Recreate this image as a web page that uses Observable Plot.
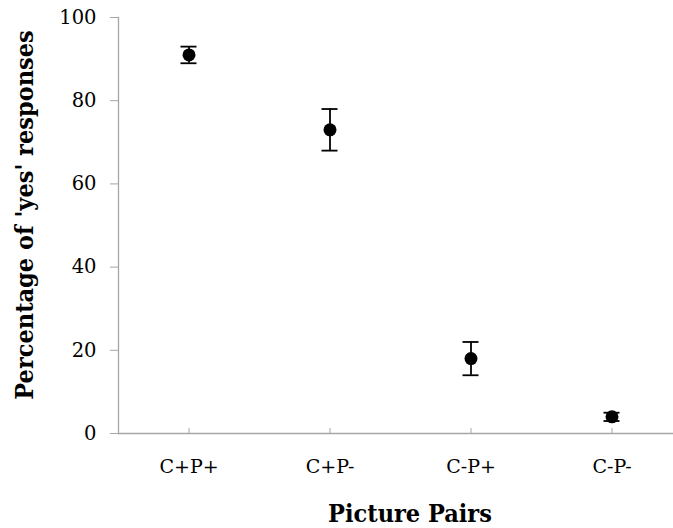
<!DOCTYPE html>
<html>
<head>
<meta charset="utf-8">
<script src="https://cdn.jsdelivr.net/npm/d3@7"></script>
<script src="https://cdn.jsdelivr.net/npm/@observablehq/plot@0.6"></script>
<style>
  html, body { margin: 0; padding: 0; background: #ffffff; }
</style>
</head>
<body>
<div id="chart"></div>
<script>
const categories = ["C+P+", "C+P-", "C-P+", "C-P-"];
const means = [91, 73, 18, 4];
const lower = [89, 68, 14, 3];
const upper = [93, 78, 22, 5];
const yTicks = [0, 20, 40, 60, 80, 100];
const xTitle = "Picture Pairs";
const yTitle = "Percentage of 'yes' responses";

const data = categories.map((c, i) => ({cat: c, mean: means[i], lo: lower[i], hi: upper[i]}));

const axisGray = "#a6a6a6";
const titleFont = "'DejaVu Serif Condensed', 'DejaVu Serif', serif";
const capInset = 62.5;

const chart = Plot.plot({
  width: 673,
  height: 528,
  marginLeft: 118,
  marginRight: 0,
  marginTop: 17,
  marginBottom: 95,
  style: {fontFamily: "'DejaVu Serif', serif", fontSize: "19px", color: "black", background: "white"},
  x: {type: "band", domain: categories, range: [118, 682], padding: 0, label: null},
  y: {domain: [0, 100], label: null},
  marks: [
    Plot.frame({anchor: "left", stroke: axisGray, strokeWidth: 1.3}),
    Plot.ruleY([0], {stroke: axisGray, strokeWidth: 1.3}),
    Plot.axisY({ticks: yTicks, tickSize: 8, tickPadding: 14, stroke: axisGray, fontSize: 19.5, label: null}),
    Plot.axisX({tickSize: 5, dy: -5, stroke: axisGray, fill: "none", label: null}),
    Plot.axisX({tickSize: 0, tickPadding: 26, fontSize: 19, label: null}),
    Plot.ruleX(data, {x: "cat", y1: "lo", y2: "hi", stroke: "black", strokeWidth: 1.8}),
    Plot.tickY(data, {x: "cat", y: "lo", stroke: "black", strokeWidth: 1.8, insetLeft: capInset, insetRight: capInset}),
    Plot.tickY(data, {x: "cat", y: "hi", stroke: "black", strokeWidth: 1.8, insetLeft: capInset, insetRight: capInset}),
    Plot.dot(data, {x: "cat", y: "mean", r: 6.5, fill: "black", stroke: null}),
    Plot.text([yTitle], {frameAnchor: "left", rotate: -90, dx: -94, dy: -10.5, textAnchor: "middle", lineAnchor: "middle", fontSize: 25, fontWeight: "bold", fontFamily: titleFont, fill: "black"}),
    Plot.text([xTitle], {frameAnchor: "bottom", dx: 14, dy: 80, textAnchor: "middle", lineAnchor: "middle", fontSize: 25, fontWeight: "bold", fontFamily: titleFont, fill: "black"})
  ]
});
document.getElementById("chart").appendChild(chart);
</script>
</body>
</html>
